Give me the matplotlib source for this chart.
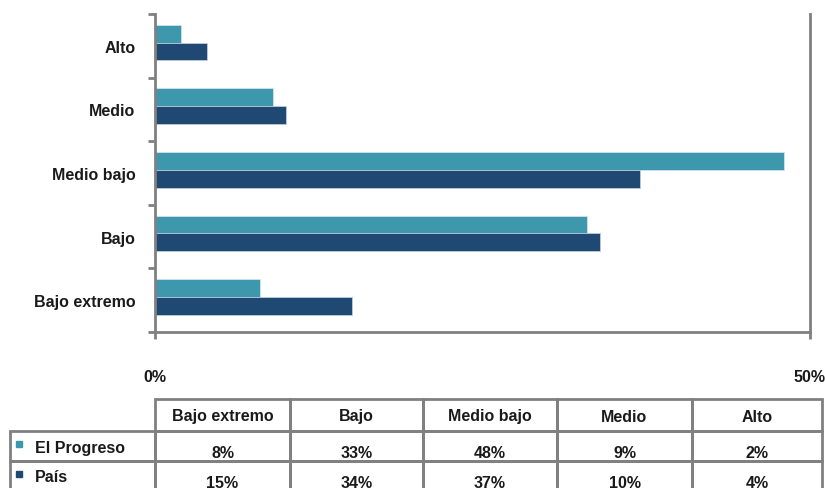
import matplotlib.pyplot as plt
from matplotlib.patches import Rectangle

categories = ["Bajo extremo", "Bajo", "Medio bajo", "Medio", "Alto"]
series_names = ["El Progreso", "País"]
el_progreso = [8, 33, 48, 9, 2]
pais = [15, 34, 37, 10, 4]

TEAL = "#3d97ad"
NAVY = "#1f4872"
GREY = "#808080"
FONT = ["Liberation Sans Narrow", "Liberation Sans", "DejaVu Sans"]

plt.rcParams["font.family"] = FONT
plt.rcParams["font.weight"] = "bold"

W, H = 825, 489
fig = plt.figure(figsize=(W / 100, H / 100), dpi=100)

# chart area
ax = fig.add_axes([155 / W, 1 - 333 / H, (810 - 155) / W, (333 - 15) / H])
pos = list(range(len(categories)))
bar_h = 0.28
shift = 0.05
ax.barh([p + shift + bar_h / 2 for p in pos], el_progreso, height=bar_h, color=TEAL,
        edgecolor="#d8e8ee", linewidth=0.5)
ax.barh([p + shift - bar_h / 2 for p in pos], pais, height=bar_h, color=NAVY,
        edgecolor="#c8d4e0", linewidth=0.5)

ax.set_xlim(0, 50)
ax.set_ylim(-0.5, len(categories) - 0.5)

ax.set_yticks(pos, categories, fontsize=11.5)
ax.set_yticks([p - 0.5 for p in pos] + [len(pos) - 0.5], minor=True)
ax.tick_params(axis="y", which="major", length=0, pad=14, colors="#1a1a1a")
ax.tick_params(axis="y", which="minor", length=5, width=2, color=GREY)

ax.set_xticks([0, 50], ["0%", "50%"], fontsize=11.5)
ax.tick_params(axis="x", length=5, width=2, color=GREY, pad=22, labelcolor="#1a1a1a")

for side in ["left", "bottom", "right"]:
    ax.spines[side].set_color(GREY)
    ax.spines[side].set_linewidth(2)
ax.spines["top"].set_visible(False)

# data table below the chart, drawn in pixel units
tax = fig.add_axes([0, 0, 1, 1])
tax.set_xlim(0, W)
tax.set_ylim(H, 0)
tax.axis("off")

col_edges = [10, 155, 290, 423, 557, 692, 822]
row_edges = [400, 432, 462, 494]
table_rows = [el_progreso, pais]
colors = [TEAL, NAVY]

for j, name in enumerate(categories):
    x0, x1 = col_edges[j + 1], col_edges[j + 2]
    y0, y1 = row_edges[0], row_edges[1]
    tax.add_patch(Rectangle((x0, y0), x1 - x0, y1 - y0, fill=False,
                            edgecolor=GREY, linewidth=2))
    tax.text((x0 + x1) / 2, (y0 + y1) / 2 + 1, name, ha="center", va="center",
             fontsize=11.5, color="#1a1a1a")

for i, (label, vals) in enumerate(zip(series_names, table_rows)):
    y0, y1 = row_edges[i + 1], row_edges[i + 2]
    for j in range(len(col_edges) - 1):
        x0, x1 = col_edges[j], col_edges[j + 1]
        tax.add_patch(Rectangle((x0, y0), x1 - x0, y1 - y0, fill=False,
                                edgecolor=GREY, linewidth=2))
    tax.plot([19], [y0 + 13], marker="s", markersize=5, color=colors[i],
             linestyle="none")
    tax.text(35, y0 + 16, label, ha="left", va="center", fontsize=11.5, color="#1a1a1a")
    for j, v in enumerate(vals):
        xc = (col_edges[j + 1] + col_edges[j + 2]) / 2
        tax.text(xc, y0 + 21, f"{v}%", ha="center", va="center",
                 fontsize=11.5, color="#1a1a1a")

fig.savefig("out.png", dpi=100)
